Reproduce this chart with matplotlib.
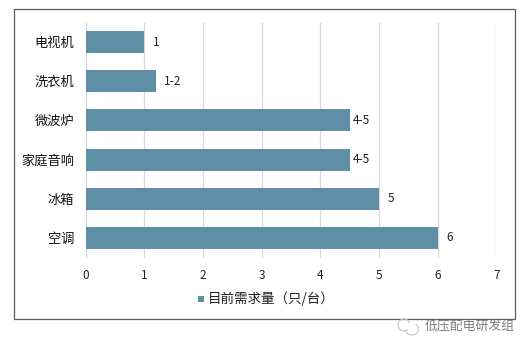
import matplotlib
matplotlib.use('Agg')
import matplotlib.pyplot as plt
from matplotlib.patches import Rectangle, Arc

plt.rcParams['font.family'] = ['Noto Sans CJK SC', 'DejaVu Sans']

categories = ['电视机', '洗衣机', '微波炉', '家庭音响', '冰箱', '空调']
values = [1, 1.2, 4.5, 4.5, 5, 6]
value_labels = ['1', '1-2', '4-5', '4-5', '5', '6']
x_ticks = [0, 1, 2, 3, 4, 5, 6, 7]
series_name = '目前需求量（只/台）'
watermark = '低压配电研发组'

W, H = 531, 351
color = '#5f8fa6'

fig = plt.figure(figsize=(W / 100, H / 100), dpi=100, facecolor='white')
# outer frame
fig.add_artist(Rectangle((13.5 / W, 1 - 318.5 / H), 501 / W, 310 / H, transform=fig.transFigure,
                         fill=False, edgecolor='#5a5a5a', linewidth=0.9))

ax = fig.add_axes([85.5 / W, 1 - 257.5 / H, 410.8 / W, 235 / H])
pos = list(range(len(categories)))
ax.barh(pos, values, height=0.56, color=color, zorder=3)
ax.set_ylim(5.5, -0.5)
ax.set_xlim(0, 7)
ax.set_xticks(x_ticks)
ax.set_yticks(pos)
ax.set_yticklabels(categories, fontsize=9.5, color='#111111')
ax.tick_params(axis='both', length=0)
ax.tick_params(axis='y', pad=8)
ax.tick_params(axis='x', pad=8, labelsize=8.5, labelcolor='#222222')
ax.grid(axis='x', color='#d9d9d9', linewidth=0.9, zorder=0)
for s in ax.spines.values():
    s.set_visible(False)

for p, v, lab in zip(pos, values, value_labels):
    # the 4-5 labels sit right against the bar end in the original
    off = 2 if lab == '4-5' else 6
    ax.annotate(lab, (v, p), xytext=(off, 0), textcoords='offset points', va='center', ha='left',
                fontsize=8.5, color='#222222')

# legend
fig.patches.append(Rectangle((198 / W, 1 - 302 / H), 6 / W, 6 / H, transform=fig.transFigure,
                             facecolor=color, edgecolor='none'))
fig.text(207.5 / W, 1 - 299 / H, series_name, fontsize=9.75, va='center', ha='left', color='#222222')

# watermark
fig.text(425 / W, 1 - 326.5 / H, watermark, fontsize=9.25, va='center', ha='left', color='#7d7d7d')
fig.add_artist(Arc((404 / W, 1 - 325 / H), 12 / W, 12 / H, theta1=30, theta2=300,
                   transform=fig.transFigure, color='#c4c4c4', linewidth=0.8))
fig.add_artist(Arc((412 / W, 1 - 329 / H), 13 / W, 12 / H, theta1=210, theta2=60,
                   transform=fig.transFigure, color='#c4c4c4', linewidth=0.8))

fig.savefig('out.png', dpi=100)
